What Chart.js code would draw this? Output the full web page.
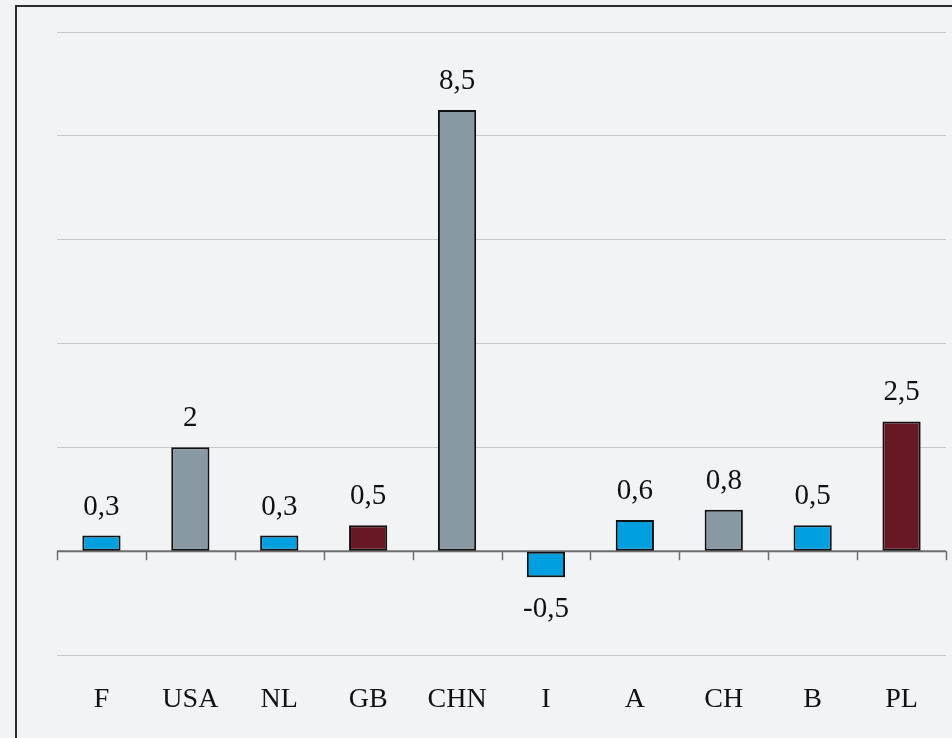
<!DOCTYPE html>
<html>
<head>
<meta charset="utf-8">
<script src="https://cdn.jsdelivr.net/npm/chart.js@4"></script>
<style>
  html, body { margin: 0; padding: 0; background: #f2f3f5; width: 952px; height: 738px; overflow: hidden; }
  #frame { position: absolute; left: 15px; top: 5px; width: 960px; height: 760px; border-left: 2px solid #2b2b2b; border-top: 2px solid #2b2b2b; box-sizing: border-box; }
  #wrap { position: absolute; left: 0; top: 0; width: 952px; height: 738px; }
</style>
</head>
<body>
<div id="frame"></div>
<div id="wrap"><canvas id="c" width="952" height="738"></canvas></div>
<script>
const categories = ["F", "USA", "NL", "GB", "CHN", "I", "A", "CH", "B", "PL"];
const values = [0.3, 2, 0.3, 0.5, 8.5, -0.5, 0.6, 0.8, 0.5, 2.5];
const yMin = -2, yMax = 10, yStep = 2;

const BLUE = "#009fe0", GREY = "#8899a4", MAROON = "#661824";
const barColors = [BLUE, GREY, BLUE, MAROON, GREY, BLUE, BLUE, GREY, BLUE, MAROON];

const fmt = v => String(v).replace('.', ',');

const zeroAxisPlugin = {
  id: 'zeroAxis',
  beforeDatasetsDraw(chart) {
    const ctx = chart.ctx, x = chart.scales.x, y = chart.scales.y;
    const y0 = y.getPixelForValue(0);
    const n = categories.length;
    const half = (x.getPixelForValue(1) - x.getPixelForValue(0)) / 2;
    ctx.save();
    ctx.strokeStyle = "#6e6e6e";
    ctx.lineWidth = 2;
    ctx.beginPath();
    ctx.moveTo(x.left, y0);
    ctx.lineTo(x.right, y0);
    ctx.stroke();
    ctx.lineWidth = 1.5;
    for (let i = 0; i <= n; i++) {
      const px = Math.round(x.getPixelForValue(i) - half) + 0.5;
      ctx.beginPath();
      ctx.moveTo(px, y0);
      ctx.lineTo(px, y0 + 9);
      ctx.stroke();
    }
    ctx.restore();
  }
};

const labelPlugin = {
  id: 'valueLabels',
  afterDatasetsDraw(chart) {
    const ctx = chart.ctx;
    const meta = chart.getDatasetMeta(0);
    ctx.save();
    ctx.font = "29px 'Liberation Serif'";
    ctx.fillStyle = "#111";
    ctx.textAlign = "center";
    ctx.textBaseline = "alphabetic";
    meta.data.forEach((bar, i) => {
      const v = values[i];
      if (v >= 0) {
        ctx.fillText(fmt(v), bar.x, bar.y - 21);
      } else {
        ctx.fillText(fmt(v), bar.x, bar.y + 40);
      }
    });
    ctx.restore();
  }
};

new Chart(document.getElementById('c'), {
  type: 'bar',
  data: {
    labels: categories,
    datasets: [{
      data: values,
      backgroundColor: barColors,
      borderColor: "#111",
      borderWidth: 2,
      borderSkipped: false,
      categoryPercentage: 1,
      barPercentage: 0.43
    }]
  },
  options: {
    responsive: false,
    animation: false,
    devicePixelRatio: 1,
    layout: { padding: { left: 57, right: 6, top: 32, bottom: 0 } },
    plugins: { legend: { display: false }, tooltip: { enabled: false } },
    scales: {
      x: {
        afterFit: s => { s.height = 83; },
        grid: { display: false, drawTicks: false },
        border: { display: false },
        ticks: { color: "#111", font: { family: "'Liberation Serif'", size: 28 }, padding: 28, maxRotation: 0 }
      },
      y: {
        min: yMin, max: yMax,
        ticks: { display: false, stepSize: yStep },
        grid: { color: ctx => ctx.tick && ctx.tick.value === 0 ? "rgba(0,0,0,0)" : "#c8c8c8", lineWidth: 1, drawTicks: false },
        border: { display: false }
      }
    }
  },
  plugins: [zeroAxisPlugin, labelPlugin]
});
</script>
</body>
</html>
